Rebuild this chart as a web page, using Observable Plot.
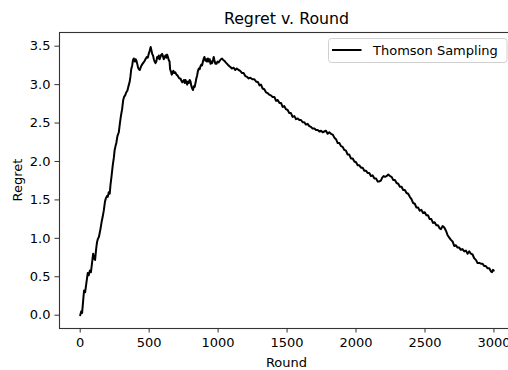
<!DOCTYPE html>
<html>
<head>
<meta charset="utf-8">
<script src="https://cdn.jsdelivr.net/npm/d3@7"></script>
<script src="https://cdn.jsdelivr.net/npm/@observablehq/plot@0.6"></script>
<style>
  html, body { margin: 0; padding: 0; background: #fff; overflow: hidden; }
  #chart { width: 508px; height: 370px; overflow: hidden; }
  #chart svg { display: block; max-width: none !important; width: 520px !important; height: 370px !important; }
</style>
</head>
<body>
<div id="chart"></div>
<script>
// Cumulative regret of the Thomson Sampling policy, by round
const rounds = [
  0, 8, 14, 22, 28, 36, 45, 55, 62, 70, 78, 86, 94, 100, 108, 115, 122, 128, 136, 147,
  156, 163, 171, 180, 186, 194, 200, 207, 214, 220, 228, 236, 244, 250, 256, 262, 270, 280, 288, 296,
  304, 312, 318, 326, 334, 342, 350, 358, 364, 370, 377, 383, 389, 396, 402, 408, 415, 420, 426, 432,
  438, 445, 452, 460, 468, 476, 483, 490, 497, 504, 511, 516, 522, 528, 534, 540, 546, 552, 558, 564,
  570, 576, 582, 588, 594, 600, 606, 612, 618, 624, 630, 636, 642, 648, 652, 658, 664, 670, 676, 682,
  690, 698, 705, 712, 719, 727, 734, 740, 746, 752, 758, 764, 770, 776, 782, 788, 794, 800, 806, 812,
  818, 824, 830, 836, 842, 848, 854, 860, 866, 872, 878, 884, 890, 896, 901, 908, 914, 920, 926, 932,
  939, 945, 951, 957, 963, 968, 973, 980, 988, 996, 1004, 1012, 1020, 1029, 1037, 1046, 1055, 1065, 1075, 1082,
  1089, 1100, 1113, 1124, 1135, 1149, 1160, 1174, 1185, 1198, 1210, 1222, 1234, 1248, 1263, 1275, 1290, 1300, 1311, 1322,
  1335, 1347, 1359, 1370, 1383, 1395, 1408, 1420, 1432, 1445, 1457, 1468, 1480, 1492, 1504, 1516, 1528, 1540, 1553, 1565,
  1577, 1589, 1601, 1613, 1625, 1637, 1649, 1661, 1673, 1685, 1698, 1710, 1722, 1734, 1746, 1758, 1770, 1782, 1794, 1806,
  1818, 1831, 1843, 1855, 1867, 1879, 1891, 1903, 1915, 1927, 1939, 1951, 1963, 1976, 1988, 2000, 2012, 2024, 2036, 2048,
  2060, 2072, 2084, 2096, 2108, 2120, 2133, 2145, 2157, 2169, 2180, 2190, 2200, 2210, 2222, 2234, 2246, 2258, 2270, 2282,
  2294, 2306, 2318, 2330, 2342, 2354, 2366, 2378, 2390, 2402, 2414, 2426, 2438, 2450, 2462, 2474, 2486, 2498, 2510, 2522,
  2534, 2546, 2558, 2570, 2582, 2594, 2606, 2616, 2628, 2640, 2652, 2664, 2676, 2688, 2700, 2712, 2724, 2736, 2748, 2760,
  2772, 2785, 2797, 2809, 2821, 2833, 2845, 2857, 2869, 2881, 2893, 2905, 2917, 2929, 2941, 2954, 2966, 2978, 2986, 2993,
  2999
];
const regret = [
  0.00, 0.05, 0.03, 0.20, 0.32, 0.30, 0.42, 0.55, 0.52, 0.58, 0.56, 0.68, 0.80, 0.74, 0.72, 0.85, 0.95, 0.99, 1.02, 1.12,
  1.22, 1.28, 1.36, 1.48, 1.52, 1.55, 1.54, 1.60, 1.58, 1.70, 1.82, 1.95, 2.05, 2.15, 2.20, 2.24, 2.33, 2.38, 2.50, 2.60,
  2.68, 2.80, 2.84, 2.86, 2.90, 2.92, 2.98, 3.03, 3.10, 3.20, 3.25, 3.32, 3.34, 3.30, 3.33, 3.31, 3.26, 3.22, 3.20, 3.19,
  3.22, 3.25, 3.27, 3.29, 3.31, 3.34, 3.36, 3.35, 3.40, 3.44, 3.49, 3.45, 3.40, 3.38, 3.33, 3.30, 3.28, 3.30, 3.36, 3.34,
  3.38, 3.33, 3.36, 3.39, 3.40, 3.37, 3.33, 3.36, 3.38, 3.35, 3.39, 3.36, 3.32, 3.30, 3.20, 3.17, 3.13, 3.16, 3.18, 3.15,
  3.16, 3.13, 3.12, 3.10, 3.08, 3.08, 3.05, 3.03, 3.04, 3.06, 3.02, 3.06, 3.03, 3.00, 3.04, 3.02, 3.06, 3.04, 2.98, 2.95,
  2.93, 2.98, 2.97, 3.02, 3.08, 3.12, 3.18, 3.21, 3.20, 3.24, 3.26, 3.25, 3.30, 3.34, 3.36, 3.31, 3.33, 3.30, 3.34, 3.30,
  3.33, 3.27, 3.30, 3.28, 3.32, 3.36, 3.32, 3.27, 3.27, 3.30, 3.29, 3.31, 3.33, 3.34, 3.32, 3.31, 3.29, 3.27, 3.25, 3.24,
  3.23, 3.21, 3.22, 3.19, 3.21, 3.19, 3.18, 3.15, 3.15, 3.11, 3.10, 3.08, 3.09, 3.07, 3.07, 3.04, 3.03, 2.99, 3.00, 2.95,
  2.94, 2.90, 2.89, 2.87, 2.86, 2.84, 2.84, 2.79, 2.80, 2.76, 2.76, 2.71, 2.72, 2.68, 2.67, 2.63, 2.63, 2.58, 2.59, 2.55,
  2.56, 2.54, 2.54, 2.51, 2.51, 2.48, 2.49, 2.46, 2.45, 2.43, 2.43, 2.41, 2.41, 2.39, 2.40, 2.38, 2.39, 2.40, 2.36, 2.38,
  2.36, 2.35, 2.31, 2.29, 2.24, 2.24, 2.20, 2.19, 2.15, 2.14, 2.09, 2.09, 2.04, 2.04, 2.00, 1.99, 1.95, 1.95, 1.92, 1.92,
  1.88, 1.88, 1.85, 1.85, 1.81, 1.82, 1.78, 1.78, 1.74, 1.74, 1.75, 1.79, 1.81, 1.80, 1.81, 1.83, 1.81, 1.80, 1.76, 1.76,
  1.72, 1.71, 1.67, 1.67, 1.63, 1.63, 1.59, 1.58, 1.54, 1.51, 1.46, 1.45, 1.40, 1.40, 1.36, 1.37, 1.33, 1.34, 1.30, 1.30,
  1.25, 1.25, 1.20, 1.21, 1.17, 1.17, 1.13, 1.12, 1.16, 1.14, 1.10, 1.04, 1.01, 0.98, 0.96, 0.90, 0.91, 0.88, 0.88, 0.85,
  0.86, 0.83, 0.84, 0.80, 0.83, 0.80, 0.79, 0.74, 0.72, 0.68, 0.68, 0.67, 0.67, 0.64, 0.64, 0.61, 0.61, 0.57, 0.56, 0.59,
  0.58
];
const xTicks = [0, 500, 1000, 1500, 2000, 2500, 3000];
const yTicks = [0, 0.5, 1, 1.5, 2, 2.5, 3, 3.5];
const seriesName = "Thomson Sampling";
const titleText = "Regret v. Round";
const xLabel = "Round";
const yLabel = "Regret";

const data = rounds.map((r, i) => ({round: r, regret: regret[i]}));

const FONT = "DejaVu Sans";
const W = 520, H = 370;
const mL = 59, mR = 6, mT = 32, mB = 42;

const chart = Plot.plot({
  width: W,
  height: H,
  marginLeft: mL,
  marginRight: mR,
  marginTop: mT,
  marginBottom: mB,
  style: {fontFamily: FONT, fontSize: "13px", color: "#000", background: "#fff", overflow: "visible", maxWidth: "none"},
  x: {domain: [-150, 3149]},
  y: {domain: [-0.173, 3.678]},
  marks: [
    Plot.lineY(data, {x: "round", y: "regret", stroke: "#000", strokeWidth: 2, strokeLinejoin: "round"}),
    Plot.axisX({ticks: xTicks, tickSize: 4.5, tickPadding: 5, tickFormat: d => String(d), label: null, fontSize: 13, stroke: "#333"}),
    Plot.axisY({ticks: yTicks, tickSize: 4.5, tickPadding: 4.5, tickFormat: d3.format(".1f"), label: null, fontSize: 13, stroke: "#333"}),
    Plot.frame({stroke: "#333", strokeWidth: 1.1})
  ]
});

document.getElementById("chart").appendChild(chart);

// Title, axis labels and legend
const svg = d3.select(chart);
const axCx = (mL + (W - mR)) / 2;

svg.append("text")
  .attr("x", axCx).attr("y", 23.5)
  .attr("text-anchor", "middle")
  .attr("font-family", FONT).attr("font-size", 15.8).attr("fill", "#000")
  .text(titleText);

svg.append("text")
  .attr("x", axCx).attr("y", 366.5)
  .attr("text-anchor", "middle")
  .attr("font-family", FONT).attr("font-size", 13).attr("fill", "#000")
  .text(xLabel);

svg.append("text")
  .attr("transform", `translate(21.8, ${(mT + (H - mB)) / 2}) rotate(-90)`)
  .attr("text-anchor", "middle")
  .attr("font-family", FONT).attr("font-size", 13).attr("fill", "#000")
  .text(yLabel);

const legend = svg.append("g");
legend.append("rect")
  .attr("x", 328.5).attr("y", 38.5).attr("width", 178.5).attr("height", 24)
  .attr("rx", 3).attr("fill", "#fff").attr("fill-opacity", 0.8)
  .attr("stroke", "#d0d0d0").attr("stroke-width", 1);
legend.append("line")
  .attr("x1", 332).attr("x2", 361.5).attr("y1", 50).attr("y2", 50)
  .attr("stroke", "#000").attr("stroke-width", 2);
legend.append("text")
  .attr("x", 373).attr("y", 55)
  .attr("text-anchor", "start")
  .attr("font-family", FONT).attr("font-size", 13).attr("fill", "#000")
  .text(seriesName);
</script>
</body>
</html>
